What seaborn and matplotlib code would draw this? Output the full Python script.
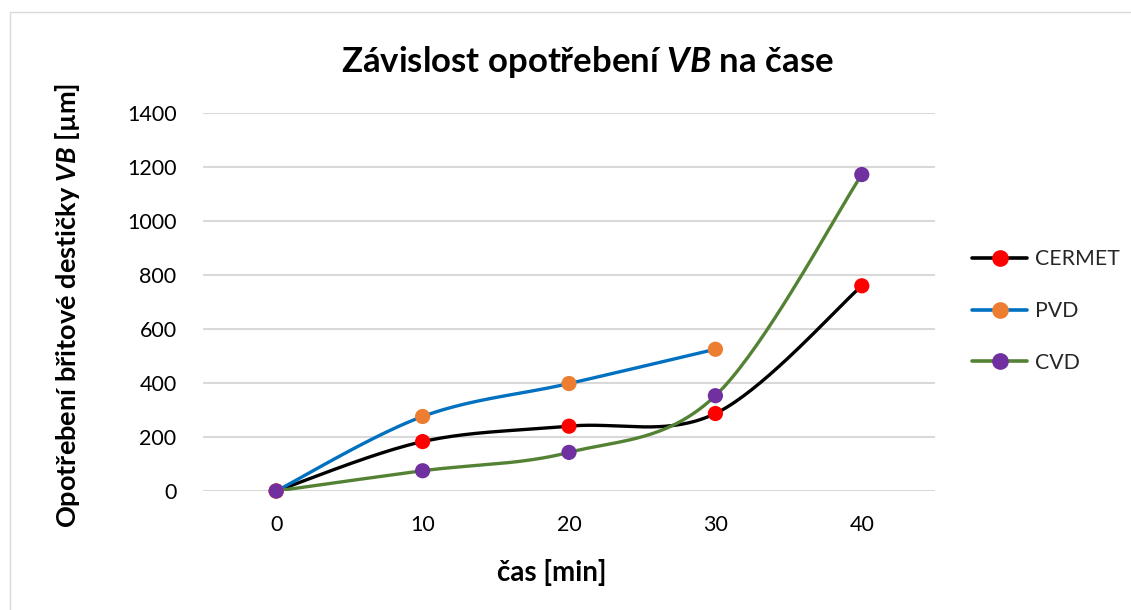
import numpy as np
import pandas as pd
import matplotlib
matplotlib.use("Agg")
import matplotlib.pyplot as plt
from matplotlib.lines import Line2D
from matplotlib.patches import Rectangle
import seaborn as sns

# ---- data ----
times = [0, 10, 20, 30, 40]
cermet = [0, 183, 240, 287, 760]
pvd = [0, 276, 398, 525]
cvd = [0, 75, 143, 353, 1172]
series_names = ["CERMET", "PVD", "CVD"]
y_ticks = [0, 200, 400, 600, 800, 1000, 1200, 1400]
x_ticks = [0, 10, 20, 30, 40]

line_colors = {"CERMET": "#000000", "PVD": "#0070C0", "CVD": "#548235"}
marker_colors = {"CERMET": "#FF0000", "PVD": "#ED7D31", "CVD": "#7030A0"}

sns.set_theme(style="white")
FONT = "Lato"
plt.rcParams["font.family"] = [FONT, "DejaVu Sans"]
plt.rcParams["mathtext.fontset"] = "custom"
plt.rcParams["mathtext.it"] = f"{FONT}:italic:bold"
plt.rcParams["mathtext.rm"] = f"{FONT}:bold"
plt.rcParams["mathtext.bf"] = f"{FONT}:italic:bold"


def excel_smooth(xs, ys, n=40):
    xs = np.asarray(xs, float)
    ys = np.asarray(ys, float)
    pts = np.column_stack([xs, ys])
    m = len(pts)
    out = []
    for i in range(m - 1):
        p0 = pts[i - 1] if i > 0 else pts[i]
        p1 = pts[i]
        p2 = pts[i + 1]
        p3 = pts[i + 2] if i + 2 < m else pts[i + 1]
        c1 = p1 + (p2 - p0) / 6.0
        c2 = p2 - (p3 - p1) / 6.0
        t = np.linspace(0, 1, n)[:, None]
        seg = ((1 - t) ** 3) * p1 + 3 * ((1 - t) ** 2) * t * c1 + 3 * (1 - t) * t ** 2 * c2 + t ** 3 * p2
        if i > 0:
            seg = seg[1:]
        out.append(seg)
    out = np.vstack(out)
    return out[:, 0], out[:, 1]


data = {"CERMET": cermet, "PVD": pvd, "CVD": cvd}

W, H = 1131, 610
fig = plt.figure(figsize=(W / 100, H / 100), dpi=100)
fig.patch.set_facecolor("white")
fig.patches.append(Rectangle((10 / W, -0.01), 1.2, 1 - 12 / H + 0.01, transform=fig.transFigure,
                             fill=False, edgecolor="#D9D9D9", linewidth=1.0))

ax = fig.add_axes([203 / W, 1 - 491 / H, (935 - 203) / W, (491 - 113) / H])

for name in series_names:
    ys = data[name]
    xs = times[: len(ys)]
    sx, sy = excel_smooth(xs, ys)
    df_line = pd.DataFrame({"x": sx, "y": sy})
    sns.lineplot(data=df_line, x="x", y="y", ax=ax, sort=False, color=line_colors[name],
                 linewidth=2.4, zorder=3, estimator=None)
for name in series_names:
    ys = data[name]
    xs = times[: len(ys)]
    df_pts = pd.DataFrame({"x": xs, "y": ys})
    sns.scatterplot(data=df_pts, x="x", y="y", ax=ax, color=marker_colors[name], s=120,
                    edgecolor="none", zorder=4, clip_on=False)

ax.set_xlim(-5, 45)
ax.set_ylim(0, 1400)
ax.set_xticks(x_ticks)
ax.set_yticks(y_ticks)
ax.set_xticklabels([str(v) for v in x_ticks])
ax.set_yticklabels([str(v) for v in y_ticks])
ax.tick_params(axis="both", length=0, labelsize=15.5, colors="#000000")
ax.tick_params(axis="y", pad=19)
ax.tick_params(axis="x", pad=17)
ax.yaxis.grid(True, color="#D9D9D9", linewidth=1.5)
ax.xaxis.grid(False)
ax.set_axisbelow(True)
for s in ax.spines.values():
    s.set_visible(False)
ax.set_xlabel("")
ax.set_ylabel("")

fig.text(587 / W, 1 - 62 / H, r"Závislost opotřebení $\mathit{VB}$ na čase", ha="center", va="center",
         fontsize=25, fontweight="bold", color="#000000")
fig.text(552 / W, 1 - 573 / H, "čas [min]", ha="center", va="center", fontsize=20,
         fontweight="bold", color="#000000")
fig.text(68 / W, 1 - 305 / H, r"Opotřebení břitové destičky $\mathit{VB}$ [µm]", ha="center", va="center",
         rotation=90, fontsize=19.5, fontweight="bold", color="#000000")

handles = [Line2D([0], [0], color=line_colors[n], linewidth=2.6, marker="o", markersize=11,
                  markerfacecolor=marker_colors[n], markeredgecolor=marker_colors[n]) for n in series_names]
leg = fig.legend(handles, series_names, loc="center left", bbox_to_anchor=(953 / W, 1 - 311 / H),
                 frameon=False, fontsize=15.3, labelspacing=1.5, handlelength=2.6, handletextpad=0.35)

fig.savefig("out.png", dpi=100, facecolor="white")
